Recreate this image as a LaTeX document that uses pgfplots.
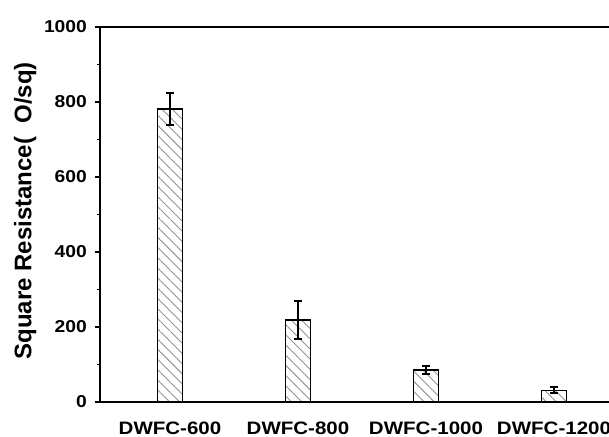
\documentclass[border=0pt]{standalone}
\usepackage{fontspec}
\setmainfont{Liberation Sans}
\usepackage{pgfplots}
\pgfplotsset{compat=1.18}
\usetikzlibrary{patterns.meta}

\begin{document}
\begin{tikzpicture}
  % visible area, the axis runs past the right edge as in the source image
  \useasboundingbox (0pt,0pt) rectangle (304.5pt,218pt);
  \begin{axis}[
      at={(50pt,17pt)}, anchor=south west,
      width=262pt, height=187.5pt, scale only axis,
      ybar, bar width=12.5pt,
      xmin=-0.547, xmax=3.547,
      ymin=0, ymax=1000,
      xtick={0,1,2,3},
      xticklabels={DWFC-600,DWFC-800,DWFC-1000,DWFC-1200},
      ytick={0,200,400,600,800,1000},
      minor ytick={100,300,500,700,900},
      tick align=outside, ytick pos=left,
      x tick style={draw=none},
      major tick length=2.6pt, minor tick length=1.6pt,
      every tick/.style={black, line width=0.8pt},
      axis line style={line width=1.1pt},
      /pgf/number format/assume math mode=true,
      /pgf/number format/1000 sep={},
      yticklabel style={font=\bfseries\fontsize{8.6}{8.6}\selectfont, xscale=1.12},
      xticklabel style={font=\bfseries\fontsize{9}{9}\selectfont, xscale=1.14, yshift=-4pt},
      ylabel={Square Resistance(\ \ O/sq)},
      ylabel style={font=\bfseries\fontsize{12}{12}\selectfont,
                    at={(axis description cs:-0.143,0.51)}, anchor=center},
    ]
    \addplot[draw=black, line width=0.75pt,
             pattern={Lines[angle=-45, distance=3.6pt, line width=0.45pt]},
             pattern color=gray!85,
             error bars/.cd, y dir=both, y explicit,
             error bar style={line width=0.9pt, black},
             error mark options={rotate=90, mark size=1.9pt, line width=0.9pt, black}]
      coordinates {
        (0,781) +- (0,42)
        (1,219) +- (0,50)
        (2,85)  +- (0,11)
        (3,31)  +- (0,8)
      };
  \end{axis}
\end{tikzpicture}
\end{document}
